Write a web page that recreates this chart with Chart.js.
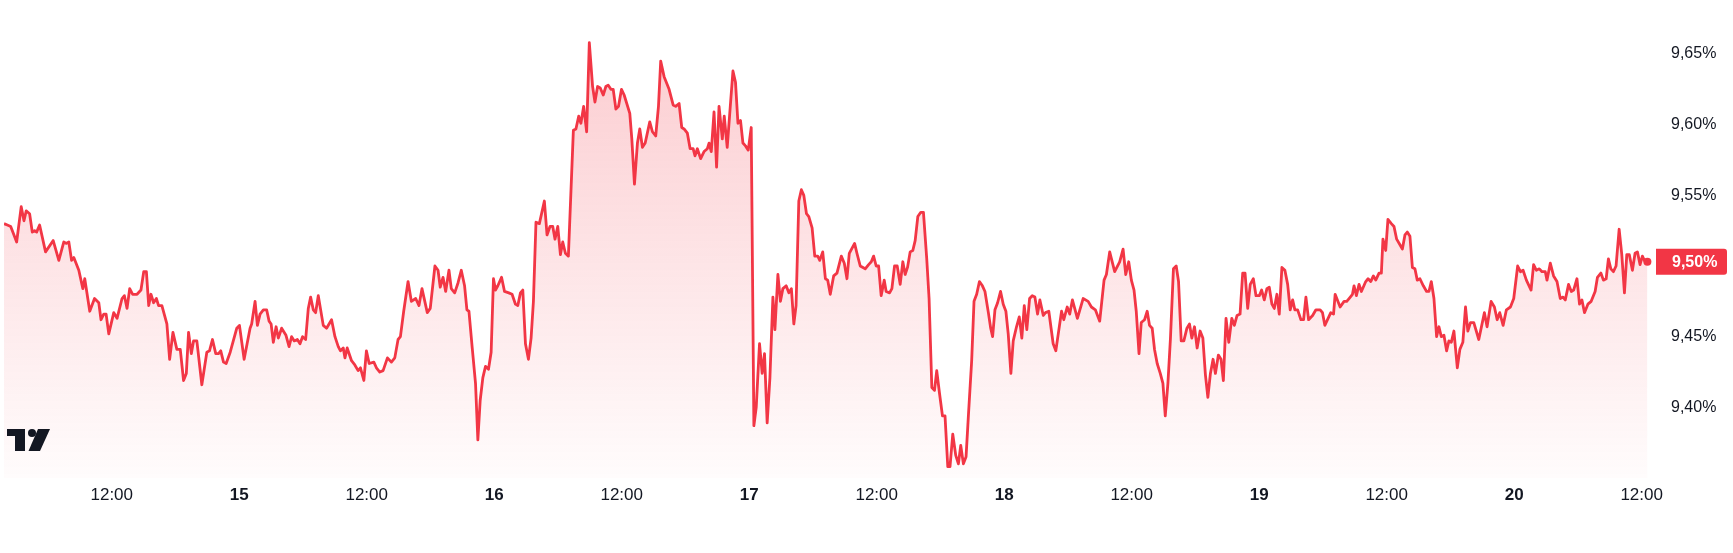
<!DOCTYPE html>
<html><head><meta charset="utf-8">
<script src="https://cdn.jsdelivr.net/npm/chart.js@4.4.1/dist/chart.umd.min.js"></script>
<style>html,body{margin:0;padding:0;background:#fff;}#wrap{width:1733px;height:553px;position:relative;}</style>
</head><body><div id="wrap"><canvas id="c"></canvas></div>
<script>
// hours since 14th 00:00
const hours = [
1.86,2.17,2.49,3.05,3.48,3.74,3.95,4.27,4.52,4.74,
4.93,5.21,5.77,6.49,7.02,7.49,7.71,7.96,8.22,8.43,
8.90,9.28,9.46,9.93,10.38,10.78,10.99,11.25,11.47,11.72,
12.19,12.50,12.97,13.19,13.44,13.69,13.97,14.38,14.75,15.01,
15.26,15.48,15.69,15.94,16.20,16.41,16.72,17.19,17.45,17.76,
18.13,18.45,18.76,19.02,19.23,19.49,19.70,20.01,20.48,20.95,
21.20,21.48,21.79,22.05,22.26,22.52,22.77,23.15,23.77,24.02,
24.46,25.02,25.17,25.49,25.71,25.96,26.27,26.58,26.81,27.00,
27.21,27.47,27.68,27.99,28.40,28.69,28.93,29.18,29.47,29.72,
29.96,30.25,30.50,30.72,30.97,31.19,31.44,31.91,32.22,32.69,
33.01,33.32,33.53,33.79,33.95,34.16,34.57,34.88,35.19,35.41,
35.73,35.97,36.23,36.67,36.91,37.23,37.54,37.95,38.32,38.64,
38.95,39.17,39.48,39.89,40.20,40.61,40.92,41.20,41.70,41.98,
42.42,42.71,42.92,43.18,43.43,43.74,43.96,44.28,44.59,44.90,
45.21,45.43,45.62,45.93,46.24,46.46,46.68,46.93,47.18,47.46,
47.71,47.93,48.12,48.34,48.69,48.97,49.37,49.68,50.00,50.22,
50.47,50.69,50.94,51.22,51.47,51.69,51.93,52.25,52.72,52.97,
53.25,53.51,53.72,53.98,54.23,54.45,54.70,54.98,55.45,55.69,
55.95,56.16,56.42,56.70,56.95,57.26,57.48,57.73,57.98,58.26,
58.51,58.73,58.98,59.20,59.45,59.70,59.98,60.23,60.76,60.95,
61.20,61.48,61.70,61.95,62.21,62.64,62.89,63.20,63.46,63.67,
63.99,64.46,64.84,65.08,65.40,65.65,65.87,66.18,66.44,66.72,
66.90,67.12,67.43,67.75,68.06,68.22,68.43,68.69,68.93,69.16,
69.47,69.65,69.93,70.15,70.47,70.71,70.94,71.18,71.41,71.65,
71.91,72.19,72.44,72.66,72.97,73.22,73.44,73.69,73.95,74.23,
74.42,74.70,74.94,75.17,75.48,75.73,75.97,76.20,76.41,76.67,
76.91,77.14,77.39,77.61,77.92,78.17,78.45,78.64,78.92,79.17,
79.39,79.63,79.95,80.26,80.67,80.95,81.20,81.42,81.92,82.14,
82.45,82.92,83.24,83.49,83.71,83.95,84.18,84.42,84.71,84.89,
85.21,85.43,85.68,85.93,86.21,86.46,86.68,86.90,87.15,87.40,
87.62,87.87,88.15,88.40,88.71,88.93,89.19,89.44,89.65,89.91,
90.19,90.43,90.69,90.90,91.16,91.44,91.69,91.91,92.16,92.41,
92.63,92.94,93.16,93.41,93.67,93.95,94.19,94.51,94.73,94.91,
95.13,95.38,95.66,95.91,96.16,96.38,96.63,96.85,97.16,97.42,
97.66,97.89,98.13,98.39,98.64,98.89,99.14,99.36,99.68,99.89,
100.20,100.61,100.86,101.09,101.40,101.61,101.93,102.17,102.42,102.89,
103.43,103.90,104.21,104.58,104.99,105.40,105.62,105.93,106.40,106.87,
107.19,107.44,107.72,107.97,108.22,108.43,108.69,108.90,109.21,109.46,
109.68,109.93,110.15,110.40,110.69,110.94,111.16,111.41,111.65,111.93,
112.19,112.41,112.66,112.91,113.20,113.44,113.66,113.91,114.16,114.44,
114.70,114.94,115.17,115.41,115.66,115.88,116.16,116.41,116.63,116.88,
117.14,117.42,117.66,117.92,118.20,118.45,118.67,118.92,119.16,119.45,
119.70,120.01,120.23,120.48,120.73,120.95,121.20,121.42,121.67,121.89,
122.14,122.42,122.68,122.92,123.15,123.36,123.62,123.93,124.18,124.40,
124.65,125.03,125.34,125.74,125.96,126.18,126.74,127.00,127.15,127.62,
127.99,128.24,128.46,128.78,128.93,129.15,129.40,129.62,130.03,130.25,
130.50,130.75,130.97,131.28,131.50,131.65,131.91,132.12,132.44,132.69,
132.94,133.25,133.48,133.72,133.94,134.19,134.42,134.66,134.88,135.13,
135.45,135.76,135.98,136.20,136.45,136.70,136.92,137.14,137.39,137.64,
137.86,138.08,138.33,138.65,138.89,139.17,139.42,139.64,139.89,140.20,
140.67,141.20,141.45,141.83,142.14,142.40,142.64,142.96,143.27,143.65,
143.96,144.33,144.59,144.84,145.15,145.59,145.83,146.09,146.37,146.62,
146.93,147.09,147.40,147.71,148.03,148.34,148.60,148.81,149.12,149.38,
149.60,149.91,150.15,150.38,150.62,150.94,151.25,151.62,151.84,152.16,
152.40,152.66,152.87,153.10,153.34,153.59,153.88,154.13,154.38,154.60,
154.84,155.13,155.38,155.60,155.85,156.07,156.32,156.54
];
const rates = [
9.530,9.529,9.528,9.517,9.542,9.532,9.539,9.537,9.524,9.525,
9.524,9.529,9.510,9.518,9.504,9.517,9.516,9.517,9.504,9.506,
9.497,9.484,9.491,9.468,9.477,9.474,9.462,9.466,9.466,9.452,
9.467,9.463,9.477,9.479,9.470,9.484,9.480,9.480,9.483,9.496,
9.496,9.472,9.480,9.474,9.477,9.472,9.472,9.459,9.434,9.453,
9.441,9.441,9.419,9.424,9.453,9.438,9.447,9.447,9.416,9.439,
9.440,9.448,9.438,9.438,9.440,9.432,9.431,9.439,9.456,9.458,
9.434,9.456,9.459,9.475,9.458,9.466,9.469,9.469,9.461,9.459,
9.446,9.457,9.449,9.456,9.451,9.443,9.450,9.447,9.448,9.445,
9.450,9.448,9.470,9.478,9.469,9.467,9.479,9.458,9.456,9.462,
9.450,9.443,9.440,9.442,9.435,9.442,9.433,9.430,9.426,9.428,
9.419,9.440,9.431,9.432,9.428,9.425,9.426,9.435,9.432,9.435,
9.448,9.450,9.468,9.489,9.475,9.477,9.472,9.484,9.467,9.470,
9.500,9.497,9.485,9.492,9.482,9.497,9.484,9.481,9.488,9.497,
9.486,9.469,9.468,9.442,9.417,9.377,9.405,9.421,9.429,9.427,
9.439,9.491,9.483,9.486,9.492,9.482,9.481,9.480,9.473,9.472,
9.481,9.483,9.445,9.434,9.449,9.475,9.531,9.530,9.546,9.522,
9.528,9.528,9.519,9.528,9.508,9.517,9.509,9.507,9.596,9.597,
9.606,9.601,9.613,9.595,9.658,9.627,9.616,9.627,9.626,9.621,
9.627,9.628,9.625,9.625,9.611,9.613,9.625,9.621,9.608,9.590,
9.558,9.587,9.597,9.584,9.587,9.602,9.595,9.592,9.613,9.645,
9.634,9.625,9.614,9.613,9.615,9.598,9.597,9.594,9.583,9.583,
9.578,9.583,9.576,9.581,9.583,9.587,9.581,9.609,9.570,9.613,
9.590,9.606,9.584,9.606,9.638,9.630,9.601,9.603,9.587,9.585,
9.582,9.598,9.387,9.400,9.445,9.424,9.438,9.389,9.421,9.478,
9.455,9.494,9.475,9.484,9.486,9.481,9.484,9.459,9.472,9.546,
9.554,9.550,9.537,9.535,9.527,9.507,9.507,9.504,9.510,9.491,
9.490,9.480,9.493,9.495,9.507,9.502,9.491,9.509,9.516,9.509,
9.500,9.498,9.501,9.503,9.507,9.500,9.500,9.479,9.490,9.482,
9.481,9.484,9.500,9.500,9.487,9.503,9.494,9.499,9.510,9.511,
9.518,9.535,9.538,9.538,9.505,9.477,9.414,9.412,9.426,9.410,
9.394,9.394,9.358,9.358,9.381,9.366,9.360,9.373,9.360,9.365,
9.394,9.433,9.475,9.480,9.489,9.486,9.482,9.467,9.456,9.450,
9.469,9.474,9.482,9.473,9.468,9.452,9.424,9.447,9.457,9.464,
9.449,9.472,9.455,9.477,9.479,9.478,9.466,9.476,9.465,9.467,
9.468,9.445,9.440,9.452,9.468,9.462,9.471,9.466,9.476,9.463,
9.477,9.475,9.471,9.469,9.461,9.490,9.494,9.510,9.496,9.503,
9.512,9.494,9.503,9.490,9.483,9.468,9.438,9.460,9.462,9.468,
9.458,9.456,9.441,9.431,9.424,9.417,9.394,9.417,9.449,9.498,
9.500,9.489,9.447,9.447,9.456,9.459,9.449,9.457,9.442,9.454,
9.449,9.423,9.407,9.424,9.434,9.424,9.437,9.434,9.419,9.463,
9.446,9.463,9.458,9.465,9.466,9.495,9.495,9.470,9.487,9.491,
9.479,9.479,9.483,9.476,9.484,9.485,9.473,9.470,9.480,9.466,
9.499,9.497,9.487,9.469,9.476,9.469,9.469,9.462,9.462,9.478,
9.462,9.465,9.469,9.469,9.467,9.458,9.467,9.466,9.480,9.471,
9.475,9.475,9.477,9.480,9.486,9.479,9.487,9.482,9.489,9.491,
9.489,9.493,9.490,9.495,9.495,9.519,9.511,9.533,9.530,9.528,
9.519,9.515,9.512,9.522,9.524,9.521,9.499,9.498,9.490,9.491,
9.486,9.482,9.482,9.489,9.477,9.450,9.457,9.450,9.451,9.440,
9.447,9.446,9.454,9.428,9.441,9.446,9.471,9.454,9.460,9.460,
9.448,9.467,9.457,9.475,9.471,9.462,9.467,9.458,9.469,9.471,
9.477,9.500,9.496,9.497,9.490,9.483,9.501,9.497,9.498,9.496,
9.496,9.490,9.502,9.493,9.489,9.477,9.478,9.476,9.487,9.482,
9.483,9.491,9.473,9.476,9.467,9.473,9.475,9.482,9.492,9.495,
9.490,9.491,9.505,9.498,9.496,9.500,9.526,9.508,9.481,9.508,
9.508,9.497,9.509,9.510,9.501,9.507,9.503,9.503
];
const yTickValues = [9.40, 9.45, 9.50, 9.55, 9.60, 9.65];
const xTickHours = [12, 24, 36, 48, 60, 72, 84, 96, 108, 120, 132, 144, 156];
const firstDay = 14;

const n = Math.min(hours.length, rates.length);
const pts = [];
for (let i = 0; i < n; i++) pts.push({x: hours[i], y: rates[i]});
const lastIdx = n - 1;
const RED = '#F23645';
const FONT = "'Liberation Sans', Arial, sans-serif";
const fmt = v => v.toFixed(2).replace('.', ',') + '%';

const overlay = {
  id: 'overlay',
  afterDraw(chart) {
    const c = chart.ctx;
    const ys = chart.scales.y;
    const y = ys.getPixelForValue(rates[lastIdx]);
    const left = chart.chartArea.right;
    c.save();
    c.fillStyle = RED;
    c.beginPath();
    if (c.roundRect) c.roundRect(left, y - 13, 71, 26, [0, 3, 3, 0]); else c.rect(left, y - 13, 71, 26);
    c.fill();
    c.fillStyle = '#ffffff';
    c.font = 'bold 16px ' + FONT;
    c.textBaseline = 'middle';
    c.textAlign = 'left';
    c.fillText(fmt(rates[lastIdx]), left + 16, y + 1);
    // TradingView logo
    c.fillStyle = '#131722';
    c.fillRect(7, 429, 18, 7);
    c.fillRect(15, 429, 10, 22);
    c.beginPath(); c.arc(32, 433, 4, 0, Math.PI * 2); c.fill();
    c.beginPath();
    c.moveTo(38, 429); c.lineTo(50, 429); c.lineTo(40, 451); c.lineTo(28.5, 451); c.closePath(); c.fill();
    c.restore();
  }
};

new Chart(document.getElementById('c'), {
  type: 'line',
  data: { datasets: [{
    data: pts,
    borderColor: RED,
    borderWidth: 2.8,
    borderJoinStyle: 'round',
    tension: 0,
    pointRadius: ctx => ctx.dataIndex === lastIdx ? 4 : 0,
    pointHoverRadius: 0,
    pointBackgroundColor: RED,
    pointBorderWidth: 0,
    fill: 'start',
    backgroundColor: ctx => {
      const ca = ctx.chart.chartArea;
      if (!ca) return 'rgba(242,54,69,0.1)';
      const g = ctx.chart.ctx.createLinearGradient(0, ca.top, 0, ca.bottom);
      g.addColorStop(0, 'rgba(242,54,69,0.27)');
      g.addColorStop(1, 'rgba(242,54,69,0.015)');
      return g;
    }
  }]},
  options: {
    responsive: true,
    maintainAspectRatio: false,
    animation: false,
    layout: { padding: { left: 0, right: 0, top: 0, bottom: 49 } },
    plugins: { legend: { display: false }, tooltip: { enabled: false } },
    scales: {
      x: {
        type: 'linear',
        min: 1.859,
        max: 157.35,
        afterBuildTicks: s => { s.ticks = xTickHours.map(v => ({ value: v })); },
        afterFit: s => { s.paddingLeft = 0; s.paddingRight = 0; s.height = 26; },
        grid: { display: false, drawTicks: false },
        border: { display: false },
        ticks: {
          autoSkip: false, maxRotation: 0, padding: 7, color: '#131722',
          font: ctx => ({ family: FONT, size: 17, weight: (ctx.tick && ctx.tick.value % 24 === 0) ? 'bold' : 'normal' }),
          callback: v => (v % 24 === 0 ? String(firstDay + v / 24) : '12:00')
        }
      },
      y: {
        position: 'right',
        min: 9.35,
        max: 9.6854,
        afterBuildTicks: s => { s.ticks = yTickValues.map(v => ({ value: v })); },
        afterFit: s => { s.width = 77; s.paddingTop = 0; s.paddingBottom = 0; },
        grid: { display: false, drawTicks: false },
        border: { display: false },
        ticks: {
          padding: 15, color: '#131722',
          font: { family: FONT, size: 16 },
          callback: v => fmt(v)
        }
      }
    }
  },
  plugins: [overlay]
});
</script>
</body></html>
